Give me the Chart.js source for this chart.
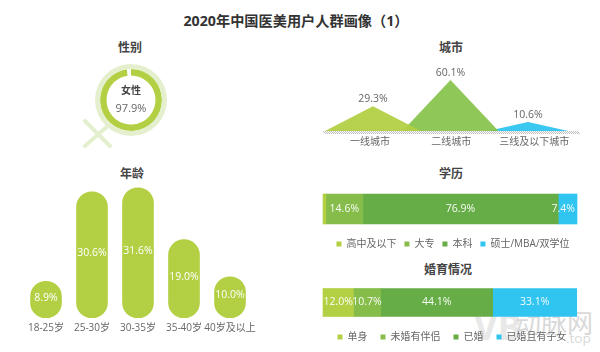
<!DOCTYPE html>
<html>
<head>
<meta charset="utf-8">
<script src="https://cdn.jsdelivr.net/npm/chart.js@4"></script>
<style>
  html, body { margin: 0; background: #fff; }
  #page { position: relative; width: 600px; height: 352px; overflow: hidden; font-family: "Open Sans", "Noto Sans CJK SC", sans-serif; }
  canvas { position: absolute; }
  .t { position: absolute; transform: translate(-50%, -50%); white-space: nowrap; font-weight: 700; color: #444; font-size: 12px; }
  .wm { position: absolute; white-space: nowrap; color: #d9d9d9; }
</style>
</head>
<body>
<div id="page">
  <div class="wm" style="left:474px;top:302px;font-size:36px;font-weight:700;color:#e8e8e8;">VB</div>
  <div class="wm" style="left:515px;top:303px;font-size:26px;font-weight:400;">动脉网</div>
  <div class="wm" style="left:566px;top:329px;font-size:13.5px;">.top</div>

  <div class="t" style="left:296px;top:20px;font-size:14.2px;color:#333;">2020年中国医美用户人群画像（1）</div>
  <div class="t" style="left:130px;top:47px;">性别</div>
  <div class="t" style="left:451px;top:47px;">城市</div>
  <div class="t" style="left:132px;top:173px;">年龄</div>
  <div class="t" style="left:451px;top:173px;">学历</div>
  <div class="t" style="left:448px;top:269px;">婚育情况</div>

  <canvas id="gender" width="122" height="100" style="left:70px;top:50px"></canvas>
  <canvas id="city" width="280" height="91" style="left:310px;top:62px"></canvas>
  <canvas id="age" width="270" height="158" style="left:0;top:180px"></canvas>
  <canvas id="edu" width="286" height="72" style="left:310px;top:187px"></canvas>
  <canvas id="marriage" width="284" height="66" style="left:310px;top:286px"></canvas>
</div>

<script>
const genderValues = [97.9, 2.1]
const genderLabel = '女性'

const cityLabels = ['一线城市', '二线城市', '三线及以下城市']
const cityValues = [29.3, 60.1, 10.6]

const ageLabels = ['18-25岁', '25-30岁', '30-35岁', '35-40岁', '40岁及以上']
const ageValues = [8.9, 30.6, 31.6, 19.0, 10.0]

const eduLabels = ['高中及以下', '大专', '本科', '硕士/MBA/双学位']
const eduValues = [1.1, 14.6, 76.9, 7.4]

const marriageLabels = ['单身', '未婚有伴侣', '已婚', '已婚且有子女']
const marriageValues = [12.0, 10.7, 44.1, 33.1]

const FONT = '"Open Sans", "Noto Sans CJK SC", sans-serif'
const GRAY = '#666'
const LIME = '#b3d044'
const STACK_COLORS = [LIME, '#86bd4a', '#66ad47', '#2fc5f0']

Chart.defaults.animation = false
Chart.defaults.font.family = FONT
Chart.defaults.events = []
Chart.defaults.responsive = false
Chart.defaults.plugins.legend.display = false
Chart.defaults.plugins.tooltip.enabled = false

const pct = v => v.toFixed(1) + '%'

function text(ctx, str, x, y, font, color) {
  ctx.save()
  ctx.font = font
  ctx.fillStyle = color
  ctx.textAlign = 'center'
  ctx.textBaseline = 'middle'
  ctx.fillText(str, x, y)
  ctx.restore()
}

new Chart(document.getElementById('gender'), {
  type: 'doughnut',
  data: {
    datasets: [
      { data: [100], backgroundColor: ['#e4efcd'], borderWidth: 0, weight: 5 },
      { data: genderValues, backgroundColor: [LIME, '#fff'], borderWidth: 0, weight: 6.5 },
    ],
  },
  options: { radius: 36, cutout: '68%', layout: { padding: 0 } },
  plugins: [{
    id: 'genderDecor',
    afterDraw(chart) {
      const { ctx } = chart
      const arc = chart.getDatasetMeta(0).data[0]
      const cx = arc.x, cy = arc.y
      ctx.save()
      ctx.strokeStyle = '#e4efcd'
      ctx.lineWidth = 4
      ctx.lineCap = 'round'
      ctx.beginPath()
      ctx.moveTo(cx - 24.5, cy + 27)
      ctx.lineTo(cx - 46, cy + 46)
      ctx.moveTo(cx - 46, cy + 21)
      ctx.lineTo(cx - 21, cy + 46)
      ctx.stroke()
      ctx.restore()
      text(ctx, genderLabel, cx, cy - 9, `700 10px ${FONT}`, '#444')
      text(ctx, pct(genderValues[0]), cx, cy + 9, `11px ${FONT}`, GRAY)
    },
  }],
})

const CITY_HALF = [0.62, 0.62, 0.52]
const CITY_FILL = ['rgba(179,208,68,.95)', 'rgba(134,194,74,.92)', 'rgba(47,197,240,.95)']
const CITY_TICKS = [-0.04, 1.01, 2.08]

new Chart(document.getElementById('city'), {
  type: 'line',
  data: {
    datasets: cityValues.map((v, i) => ({
      data: [{ x: i - CITY_HALF[i], y: 0 }, { x: i, y: v }, { x: i + CITY_HALF[i], y: 0 }],
      backgroundColor: CITY_FILL[i],
      borderWidth: 0,
      pointRadius: 0,
      fill: 'origin',
      tension: 0,
    })),
  },
  options: {
    layout: { padding: { left: 13, right: 11, top: 13 } },
    scales: {
      x: {
        type: 'linear',
        min: -0.645,
        max: 2.658,
        grid: { display: false, drawTicks: false },
        border: { display: false },
        afterBuildTicks: s => { s.ticks = CITY_TICKS.map(value => ({ value })) },
        ticks: {
          autoSkip: false,
          maxRotation: 0,
          padding: 5,
          color: GRAY,
          font: { size: 10 },
          callback: (v, i) => cityLabels[i],
        },
      },
      y: { display: false, min: 0, max: 66 },
    },
  },
  plugins: [{
    id: 'cityDecor',
    afterDraw(chart) {
      const { ctx, chartArea: a, scales } = chart
      ctx.save()
      ctx.strokeStyle = '#bdbdbd'
      ctx.lineWidth = 1
      ctx.beginPath()
      for (let x = a.left; x < a.right; x += 2) {
        ctx.moveTo(x, a.bottom)
        ctx.lineTo(x + 3, a.bottom + 3)
      }
      ctx.stroke()
      ctx.restore()
      cityValues.forEach((v, i) => {
        text(ctx, pct(v), scales.x.getPixelForValue(i), scales.y.getPixelForValue(v) - 7, `10.5px ${FONT}`, GRAY)
      })
    },
  }],
})

new Chart(document.getElementById('age'), {
  type: 'bar',
  data: {
    labels: ageLabels,
    datasets: [{
      data: ageValues,
      backgroundColor: LIME,
      barThickness: 31,
      borderRadius: 16,
      borderSkipped: false,
    }],
  },
  options: {
    layout: { padding: { left: 23, right: 17, top: 2 } },
    scales: {
      x: {
        grid: { display: false, drawTicks: false },
        border: { display: false },
        ticks: { autoSkip: false, maxRotation: 0, padding: 4, color: GRAY, font: { size: 10 } },
      },
      y: { display: false, min: 0, max: 33 },
    },
  },
  plugins: [{
    id: 'ageLabels',
    afterDatasetsDraw(chart) {
      chart.getDatasetMeta(0).data.forEach((bar, i) => {
        text(chart.ctx, pct(ageValues[i]), bar.x, (bar.y + bar.base) / 2 - 2, `10.5px ${FONT}`, '#fff')
      })
    },
  }],
})

// one horizontal 100% strip with its legend below
function stackedStrip(id, labels, values, xMax, thickness, legendGap) {
  new Chart(document.getElementById(id), {
    type: 'bar',
    data: {
      labels: [''],
      datasets: labels.map((label, i) => ({
        label,
        data: [values[i]],
        backgroundColor: STACK_COLORS[i],
        barThickness: thickness,
        borderWidth: 0,
      })),
    },
    options: {
      indexAxis: 'y',
      scales: {
        x: { display: false, stacked: true, min: -13 / 2.54, max: xMax },
        y: { display: false, stacked: true },
      },
      plugins: {
        legend: {
          display: true,
          position: 'bottom',
          labels: { boxWidth: 5, boxHeight: 5, padding: legendGap, color: GRAY, font: { size: 10 } },
        },
      },
    },
    plugins: [{
      id: 'stripLabels',
      afterDatasetsDraw(chart) {
        const { ctx } = chart
        ctx.save()
        ctx.font = `10.5px ${FONT}`
        values.forEach((v, i) => {
          if (v < 2) return
          const bar = chart.getDatasetMeta(i).data[0]
          const w = ctx.measureText(pct(v)).width
          const right = chart.scales.x.getPixelForValue(100) - 2
          const x = Math.min((bar.x + bar.base) / 2, right - w / 2)
          text(ctx, pct(v), x, bar.y, `10.5px ${FONT}`, 'rgba(255,255,255,.95)')
        })
        ctx.restore()
      },
    }],
  })
}

stackedStrip('edu', eduLabels, eduValues, 107.48, 30, 8)
stackedStrip('marriage', marriageLabels, marriageValues, 106.7, 28, 13)
</script>
</body>
</html>
